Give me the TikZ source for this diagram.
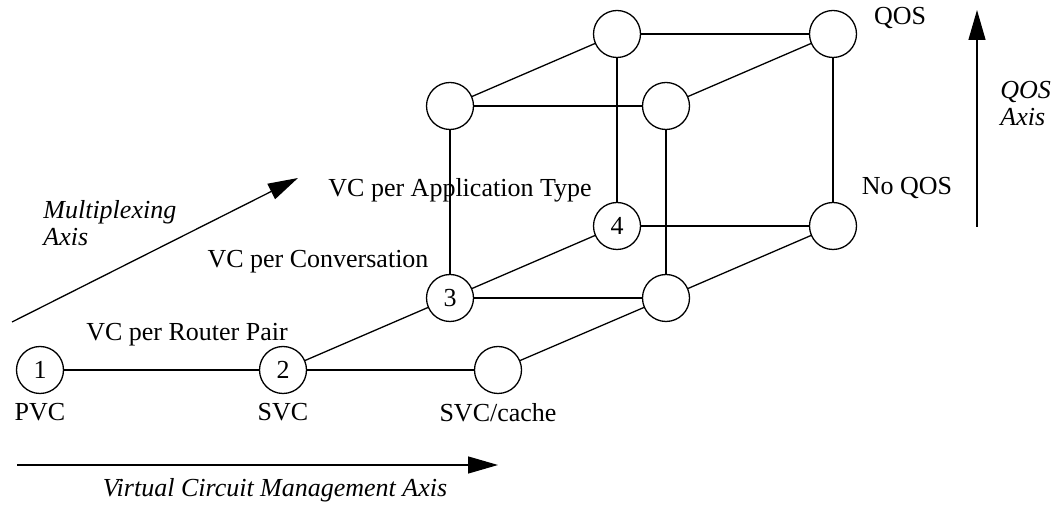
\documentclass[tikz,border=0pt]{standalone}
\usepackage{fontspec}
\setmainfont{Liberation Serif}
\usetikzlibrary{positioning}
\usetikzlibrary{arrows.meta}

\begin{document}
\begin{tikzpicture}[
        x = 0.5pt, y = -0.5pt,
        font = \fontsize{13}{13.5}\selectfont,
        state/.style = {
            draw,
            circle,
            minimum size = #1,
            inner sep = 0pt,
            outer sep = 0pt,
            line width = 0.65pt
        },
        state/.default = 23.5pt,
        edge/.style = {line width = 0.65pt},
        axis/.style = {line width = 0.65pt, -{Triangle[length=15pt, width=8.5pt]}},
        label distance = 1.5pt,
        node distance = {36pt and 83.5pt},
        on grid
    ]
    \useasboundingbox (0,0) rectangle (1060,512);

    % bottom row: management axis
    \node[state, label=below:PVC] (1) at (40,370) {1};
    \node[state, label=below:SVC, right=121.5pt of 1] (2) {2};
    \node[state, label=below:SVC/cache, right=107.5pt of 2] (5) {};
    % cube, front face
    \node[state, above right=of 2] (3) {3};
    \node[state, right=108pt of 3] (6) {};
    \node[state, above=96pt of 3] (8) {};
    \node[state, above=96pt of 6] (9) {};
    % cube, back face
    \node[state, above right=of 3] (4) {4};
    \node[state, right=108pt of 4] (7) {};
    \node[state, above=96pt of 4] (10) {};
    \node[state, above=96pt of 7] (11) {};

    \draw[edge] (1) -- (2);
    \draw[edge] (2) -- (5);
    \draw[edge] (2) -- (3);
    \draw[edge] (5) -- (6);
    \draw[edge] (3) -- (6);
    \draw[edge] (3) -- (4);
    \draw[edge] (6) -- (7);
    \draw[edge] (4) -- (7);
    \draw[edge] (3) -- (8);
    \draw[edge] (6) -- (9);
    \draw[edge] (4) -- (10);
    \draw[edge] (7) -- (11);
    \draw[edge] (8) -- (9);
    \draw[edge] (10) -- (11);
    \draw[edge] (8) -- (10);
    \draw[edge] (9) -- (11);

    % labels
    \node (rtr) at (187,335) {VC per Router Pair};
    \node (conv) at (318,262) {VC per Conversation};
    \node (appl) at (460,190) {VC per Application Type};
    \node (noqos) at (907,188) {No QOS};
    \node (qos) at (900,18) {QOS};

    % axes
    \coordinate (m0) at (12,322);
    \coordinate (m1) at (298,178);
    \draw[axis] (m0) -- (m1);
    \node[font=\fontsize{13}{13.5}\selectfont\itshape, align=left, anchor=west, inner sep=0pt] (mlabel) at (43,223) {Multiplexing\\Axis};

    \coordinate (v0) at (17,465);
    \coordinate (v1) at (498,465);
    \draw[axis] (v0) -- (v1);
    \node[font=\fontsize{13}{13.5}\selectfont\itshape] (vlabel) at (275,490) {Virtual Circuit Management Axis};

    \coordinate (q0) at (977,227);
    \coordinate (q1) at (977,10);
    \draw[axis] (q0) -- (q1);
    \node[font=\fontsize{13}{13.5}\selectfont\itshape, align=left, anchor=west, inner sep=0pt] (qlabel) at (1000,104) {QOS\\Axis};
\end{tikzpicture}
\end{document}
